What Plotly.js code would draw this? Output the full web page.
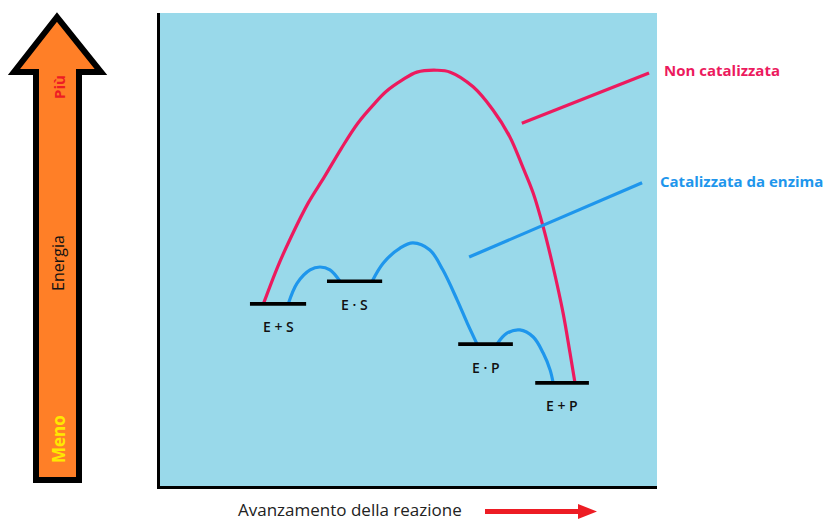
<!DOCTYPE html>
<html>
<head>
<meta charset="utf-8">
<script src="https://cdn.plot.ly/plotly-3.0.1.min.js"></script>
<style>html,body{margin:0;padding:0;background:#fff;}#chart{width:829px;height:520px;}</style>
</head>
<body>
<div id="chart"></div>
<script>
// ---- Data (reaction coordinate 0-100, energy 0-100) ----
const levelNames  = ["E + S", "E · S", "E · P", "E + P"];
const levelStart  = [18.1, 33.6, 60.0, 75.5];
const levelEnd    = [29.4, 44.7, 71.0, 86.3];
const levelEnergy = [38.5, 43.3, 30.0, 21.8];

// Non-catalysed path
const uncatX = [20.8, 23.7, 26.4, 29.8, 33.1, 36.5, 39.8, 43.2, 45.5, 48.7, 51.7, 55.7, 58.4, 63.0, 67.0, 70.4, 73.0, 75.1, 77.1, 79.1, 81.1, 82.5, 83.5];
const uncatY = [38.5, 46.4, 52.7, 59.8, 65.4, 71.4, 76.7, 80.9, 83.4, 85.8, 87.5, 87.9, 87.5, 84.4, 79.5, 73.8, 67.4, 61.9, 54.8, 46.3, 36.6, 28.1, 21.8];

// Enzyme-catalysed path (three humps)
const cat1X = [25.8, 27.6, 30.2, 32.2, 34.2, 36.2];
const cat1Y = [38.5, 42.9, 45.7, 46.3, 45.7, 43.3];
const cat2X = [42.7, 44.9, 48.3, 50.9, 54.3, 56.9, 59.8, 61.8, 63.8];
const cat2Y = [43.3, 47.1, 50.3, 51.4, 49.9, 45.7, 39.3, 34.5, 30.0];
const cat3X = [67.8, 69.8, 72.4, 75.1, 77.1, 78.5, 79.1];
const cat3Y = [30.0, 32.3, 33.0, 31.5, 28.1, 24.5, 21.8];

// Pointer lines to the labels
const ptrUncatX = [72.8, 98.4];
const ptrUncatY = [76.7, 87.3];
const ptrCatX = [62.2, 97.0];
const ptrCatY = [48.4, 64.1];

const seriesNames = ["Non catalizzata", "Catalizzata da enzima"];
const axisTitleX = "Avanzamento della reazione";
const energyLabels = ["Più", "Energia", "Meno"];

// ---- Styles ----
const PINK = "#EC1A5E";
const BLUE = "#1E96EC";
const W = 829, H = 520;
const M = {l: 160, r: 172, t: 13, b: 34};
const PW = W - M.l - M.r, PH = H - M.t - M.b;
const px = v => (v - M.l) / PW;          // pixel -> paper x (decorations only)
const py = v => (H - M.b - v) / PH;      // pixel -> paper y (decorations only)
const FONT = "'Open Sans', sans-serif";

// Level bars built from arrays
const lvX = [], lvY = [];
levelStart.forEach((s, i) => { lvX.push(s, levelEnd[i], null); lvY.push(levelEnergy[i], levelEnergy[i], null); });

const traces = [
  {x: uncatX, y: uncatY, mode: "lines", line: {color: PINK, width: 3.2, shape: "spline", smoothing: 1}, name: seriesNames[0]},
  {x: ptrUncatX, y: ptrUncatY, mode: "lines", line: {color: PINK, width: 3.2}},
  {x: cat1X, y: cat1Y, mode: "lines", line: {color: BLUE, width: 3.2, shape: "spline", smoothing: 1}, name: seriesNames[1]},
  {x: cat2X, y: cat2Y, mode: "lines", line: {color: BLUE, width: 3.2, shape: "spline", smoothing: 1}},
  {x: cat3X, y: cat3Y, mode: "lines", line: {color: BLUE, width: 3.2, shape: "spline", smoothing: 1}},
  {x: ptrCatX, y: ptrCatY, mode: "lines", line: {color: BLUE, width: 3.2}},
  {x: lvX, y: lvY, mode: "lines", line: {color: "#000", width: 3.6}, connectgaps: false}
];

const annotations = levelNames.map((n, i) => ({
  x: (levelStart[i] + levelEnd[i]) / 2, y: levelEnergy[i], xref: "x", yref: "y",
  text: n, showarrow: false, yshift: -23, font: {family: FONT, size: 14, weight: 600, color: "#111"}
}));
annotations.push(
  {xref: "paper", yref: "paper", x: px(662), y: py(70), xanchor: "left", yanchor: "middle", showarrow: false,
   text: "<b>" + seriesNames[0] + "</b>", font: {family: FONT, size: 15, color: PINK}},
  {xref: "paper", yref: "paper", x: px(658), y: py(181), xanchor: "left", yanchor: "middle", showarrow: false,
   text: "<b>" + seriesNames[1] + "</b>", font: {family: FONT, size: 15, color: BLUE}},
  {xref: "paper", yref: "paper", x: px(350), y: py(509), xanchor: "center", yanchor: "middle", showarrow: false,
   text: axisTitleX, font: {family: FONT, size: 17, color: "#222"}},
  {xref: "paper", yref: "paper", x: px(59), y: py(87), xanchor: "center", yanchor: "middle", showarrow: false, textangle: -90,
   text: "<b>" + energyLabels[0] + "</b>", font: {family: FONT, size: 15, color: "#ED1C24"}},
  {xref: "paper", yref: "paper", x: px(58), y: py(263), xanchor: "center", yanchor: "middle", showarrow: false, textangle: -90,
   text: energyLabels[1], font: {family: FONT, size: 16, color: "#111"}},
  {xref: "paper", yref: "paper", x: px(58), y: py(439), xanchor: "center", yanchor: "middle", showarrow: false, textangle: -90,
   text: "<b>" + energyLabels[2] + "</b>", font: {family: FONT, size: 17, color: "#FFE800"}}
);

function pathPx(pts) {
  return "M" + pts.map(p => px(p[0]).toFixed(5) + "," + py(p[1]).toFixed(5)).join(" L") + " Z";
}

const shapes = [
  // Energy arrow (orange with black outline)
  {type: "path", xref: "paper", yref: "paper", layer: "below",
   path: pathPx([[57, 17], [101, 72], [79, 72], [79, 480], [36, 480], [36, 72], [14, 72]]),
   fillcolor: "#FF7F27", line: {color: "#000", width: 6}},
  // Red progress arrow
  {type: "path", xref: "paper", yref: "paper", layer: "above",
   path: pathPx([[485, 509], [578, 509], [578, 504], [597, 511.5], [578, 519], [578, 514], [485, 514]]),
   fillcolor: "#ED1C24", line: {color: "#ED1C24", width: 0}}
];

const layout = {
  width: W, height: H, margin: M,
  paper_bgcolor: "#fff", plot_bgcolor: "#99D9EA",
  showlegend: false, hovermode: false,
  xaxis: {range: [0, 100], showgrid: false, zeroline: false, showticklabels: false, ticks: "",
          showline: true, linecolor: "#000", linewidth: 3, fixedrange: true},
  yaxis: {range: [0, 100], showgrid: false, zeroline: false, showticklabels: false, ticks: "",
          showline: true, linecolor: "#000", linewidth: 3, fixedrange: true},
  annotations: annotations, shapes: shapes
};

Plotly.newPlot("chart", traces, layout, {displayModeBar: false, staticPlot: true});
</script>
</body>
</html>
